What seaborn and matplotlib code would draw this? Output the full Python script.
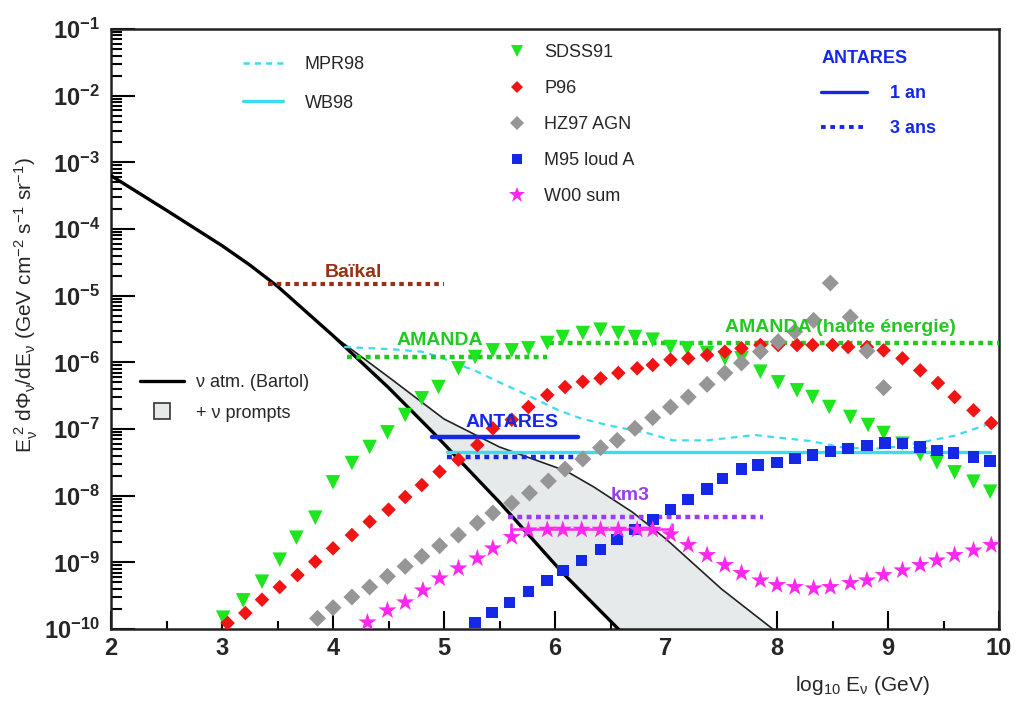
import numpy as np
import pandas as pd
import matplotlib
matplotlib.use('Agg')
import matplotlib.pyplot as plt
import seaborn as sns
from matplotlib.lines import Line2D
from matplotlib.ticker import FixedLocator, FuncFormatter, NullFormatter

sns.set_theme(style='ticks')
plt.rcParams['font.family'] = ['Liberation Sans', 'DejaVu Sans']
plt.rcParams['mathtext.fontset'] = 'custom'
plt.rcParams['mathtext.rm'] = 'Liberation Sans'
plt.rcParams['mathtext.it'] = 'Liberation Sans'
plt.rcParams['mathtext.bf'] = 'Liberation Sans:bold'

# ---------------- data (x = log10 E [GeV], values = log10 flux) ----------------
bartol_x = [2.0, 2.5, 3.0, 3.25, 3.5, 4.0, 4.5, 4.9, 5.5, 6.07, 6.6]
bartol_log = [-3.2, -3.72, -4.25, -4.54, -4.86, -5.6, -6.38, -7.05, -8.1, -9.16, -10.05]

prompt_x = [4.0, 4.5, 5.0, 5.5, 5.8, 6.1, 6.35, 6.7, 7.0, 7.5, 8.0]
prompt_log = [-5.6, -6.22, -6.85, -7.27, -7.45, -7.63, -7.87, -8.25, -8.65, -9.4, -10.05]

mpr_x = [4.1, 4.5, 4.8, 4.96, 5.3, 5.5, 5.75, 6.02, 6.23, 6.47, 6.83, 7.06, 7.37,
         7.8, 8.3, 8.57, 8.85, 9.05, 9.3, 9.6, 9.95]
mpr_log = [-5.77, -5.8, -5.84, -5.92, -6.14, -6.3, -6.49, -6.71, -6.84, -6.94, -7.06,
           -7.17, -7.17, -7.09, -7.18, -7.27, -7.3, -7.27, -7.2, -7.1, -6.9]

wb_x = [5.03, 9.92]
wb_log = [-7.34, -7.34]

baikal_x = [3.41, 5.0]
baikal_log = [-4.82, -4.82]
amanda_x = [4.13, 5.93]
amanda_log = [-5.92, -5.92]
amanda_he_x = [5.95, 10.0]
amanda_he_log = [-5.71, -5.71]
antares1_x = [4.89, 6.21]
antares1_log = [-7.12, -7.12]
antares3_x = [5.03, 6.22]
antares3_log = [-7.42, -7.42]
km3_x = [5.58, 7.87]
km3_log = [-8.32, -8.32]
w00_band_x = [5.6, 7.05]
w00_band_log = [-8.5, -8.5]

sdss_x = [3.01, 3.19, 3.36, 3.52, 3.67, 3.84, 4.0, 4.17, 4.33, 4.49, 4.65, 4.8, 4.95,
          5.13, 5.28, 5.44, 5.61, 5.76, 5.93, 6.07, 6.25, 6.41, 6.57, 6.72, 6.88,
          7.04, 7.19, 7.37, 7.53, 7.68, 7.85, 8.01, 8.18, 8.32, 8.47, 8.66, 8.82,
          8.96, 9.13, 9.29, 9.44, 9.6, 9.77, 9.92]
sdss_log = [-9.83, -9.57, -9.29, -8.96, -8.63, -8.33, -7.8, -7.51, -7.27, -7.05, -6.79,
            -6.54, -6.37, -6.09, -5.92, -5.82, -5.82, -5.79, -5.71, -5.62, -5.56, -5.51,
            -5.56, -5.62, -5.66, -5.77, -5.79, -5.86, -5.94, -5.94, -6.14, -6.3, -6.42,
            -6.52, -6.67, -6.82, -6.94, -7.06, -7.22, -7.38, -7.5, -7.65, -7.79, -7.94]

p96_x = [3.05, 3.21, 3.36, 3.52, 3.68, 3.84, 4.0, 4.17, 4.33, 4.5, 4.65, 4.8, 4.96,
         5.13, 5.3, 5.44, 5.61, 5.76, 5.93, 6.09, 6.25, 6.41, 6.57, 6.74, 6.88, 7.04,
         7.2, 7.37, 7.53, 7.68, 7.85, 8.01, 8.18, 8.32, 8.5, 8.64, 8.81, 8.96, 9.13,
         9.29, 9.45, 9.6, 9.77, 9.93]
p96_log = [-9.91, -9.76, -9.56, -9.37, -9.19, -8.99, -8.79, -8.59, -8.39, -8.21, -8.02,
           -7.84, -7.64, -7.46, -7.24, -6.99, -6.86, -6.67, -6.49, -6.37, -6.29, -6.24,
           -6.16, -6.09, -6.04, -5.96, -5.94, -5.89, -5.84, -5.79, -5.74, -5.74, -5.74,
           -5.74, -5.74, -5.77, -5.77, -5.82, -5.94, -6.12, -6.31, -6.52, -6.72, -6.91]

hz97_x = [3.86, 4.0, 4.17, 4.33, 4.49, 4.65, 4.8, 4.96, 5.13, 5.3, 5.44, 5.61, 5.77,
          5.94, 6.09, 6.25, 6.41, 6.56, 6.72, 6.88, 7.04, 7.2, 7.37, 7.53, 7.68, 7.85,
          8.01, 8.16, 8.33, 8.48, 8.66, 8.81, 8.96]
hz97_log = [-9.84, -9.68, -9.52, -9.37, -9.21, -9.06, -8.91, -8.75, -8.59, -8.41, -8.26,
            -8.11, -7.96, -7.78, -7.6, -7.45, -7.28, -7.17, -6.99, -6.83, -6.67, -6.52,
            -6.33, -6.16, -6.01, -5.84, -5.69, -5.54, -5.37, -4.81, -5.32, -5.83, -6.38]

m95_x = [5.28, 5.43, 5.59, 5.76, 5.93, 6.07, 6.24, 6.41, 6.56, 6.72, 6.88, 7.04, 7.2,
         7.37, 7.51, 7.68, 7.83, 8.0, 8.16, 8.32, 8.48, 8.64, 8.81, 8.97, 9.13, 9.29,
         9.44, 9.59, 9.77, 9.92]
m95_log = [-9.9, -9.75, -9.6, -9.44, -9.27, -9.12, -8.97, -8.81, -8.66, -8.51, -8.36,
           -8.21, -8.06, -7.9, -7.74, -7.6, -7.54, -7.5, -7.44, -7.39, -7.34, -7.29,
           -7.25, -7.21, -7.22, -7.27, -7.32, -7.36, -7.42, -7.48]

w00_x = [4.31, 4.49, 4.65, 4.81, 4.96, 5.13, 5.3, 5.44, 5.61, 5.76, 5.93, 6.07, 6.24,
         6.41, 6.57, 6.74, 6.88, 7.04, 7.2, 7.37, 7.53, 7.68, 7.85, 8.0, 8.16, 8.33,
         8.48, 8.66, 8.81, 8.96, 9.13, 9.29, 9.44, 9.6, 9.77, 9.93]
w00_log = [-9.9, -9.72, -9.6, -9.42, -9.24, -9.09, -8.94, -8.79, -8.62, -8.52, -8.51,
           -8.51, -8.51, -8.51, -8.51, -8.51, -8.51, -8.58, -8.74, -8.89, -9.04, -9.16,
           -9.27, -9.34, -9.37, -9.39, -9.37, -9.31, -9.27, -9.19, -9.12, -9.04, -8.97,
           -8.89, -8.82, -8.74]

model_names = ['SDSS91', 'P96', 'HZ97 AGN', 'M95 loud A', 'W00 sum']
x_ticks = [2, 3, 4, 5, 6, 7, 8, 9, 10]
y_exponents = list(range(-10, 0))

# ---------------- style ----------------
C_GREEN = '#1ee61e'
C_RED = '#f01414'
C_GREY = '#969696'
C_BLUE = '#1428e6'
C_MAG = '#ff28f0'
C_CYAN = '#3cdcf0'
C_BROWN = '#963214'
C_PURPLE = '#9b3cf0'
C_AMANDA = '#23c823'

def f(v):
    return 10.0 ** np.asarray(v, dtype=float)

fig = plt.figure(figsize=(10.16, 7.04), dpi=100)
ax = fig.add_axes([0.1093, 0.1065, 0.874, 0.8523])
ax.set_yscale('log')
ax.set_xlim(2, 10)
ax.set_ylim(1e-10, 1e-1)

# shaded prompt band
bx = np.asarray(bartol_x)
bl = np.asarray(bartol_log)
mask = bx >= 4.0
poly_x = np.concatenate([prompt_x, bx[mask][::-1]])
poly_y = np.concatenate([f(prompt_log), f(bl[mask][::-1])])
ax.fill(poly_x, poly_y, facecolor='#e6eaeb', edgecolor='none', zorder=1)
sns.lineplot(x=prompt_x, y=f(prompt_log), ax=ax, color='#222222', lw=1.2, sort=False,
             estimator=None, zorder=2)
sns.lineplot(x=bartol_x, y=f(bartol_log), ax=ax, color='black', lw=2.4, sort=False,
             estimator=None, zorder=3)

# model lines
sns.lineplot(x=mpr_x, y=f(mpr_log), ax=ax, color=C_CYAN, lw=1.6, estimator=None,
             sort=False, linestyle=(0, (3, 2.5)), zorder=3)
sns.lineplot(x=wb_x, y=f(wb_log), ax=ax, color=C_CYAN, lw=2.4, estimator=None, zorder=3)

# sensitivity lines
dot = (0, (1.1, 1.0))
ax.plot(baikal_x, f(baikal_log), color=C_BROWN, lw=3, linestyle=dot, zorder=3)
ax.plot(amanda_x, f(amanda_log), color=C_AMANDA, lw=3.2, linestyle=dot, zorder=3)
ax.plot(amanda_he_x, f(amanda_he_log), color=C_AMANDA, lw=3.2, linestyle=dot, zorder=3)
ax.plot(antares1_x, f(antares1_log), color=C_BLUE, lw=3.2, zorder=4)
ax.plot(antares3_x, f(antares3_log), color=C_BLUE, lw=3.2, linestyle=dot, zorder=4)
ax.plot(km3_x, f(km3_log), color=C_PURPLE, lw=3.2, linestyle=dot, zorder=3)
ax.plot(w00_band_x, f(w00_band_log), color=C_MAG, lw=1.8, zorder=4,
        marker='|', markersize=9, markeredgewidth=1.8)

# model markers
frames = []
for name, xs, ls in [('SDSS91', sdss_x, sdss_log), ('P96', p96_x, p96_log),
                     ('HZ97 AGN', hz97_x, hz97_log), ('M95 loud A', m95_x, m95_log),
                     ('W00 sum', w00_x, w00_log)]:
    frames.append(pd.DataFrame({'logE': xs, 'flux': f(ls), 'model': name}))
df = pd.concat(frames, ignore_index=True)
palette = {'SDSS91': C_GREEN, 'P96': C_RED, 'HZ97 AGN': C_GREY,
           'M95 loud A': C_BLUE, 'W00 sum': C_MAG}
markers = {'SDSS91': 'v', 'P96': 'D', 'HZ97 AGN': 'D', 'M95 loud A': 's', 'W00 sum': '*'}
sizes = {'SDSS91': 110, 'P96': 55, 'HZ97 AGN': 75, 'M95 loud A': 70, 'W00 sum': 190}
sns.scatterplot(data=df, x='logE', y='flux', hue='model', style='model', size='model',
                palette=palette, markers=markers, sizes=sizes, linewidth=0,
                legend=False, ax=ax, zorder=5)

# in-plot labels
lab = dict(fontsize=14, fontweight='bold', ha='center', va='center', zorder=6)
ax.text(4.18, 2.26e-5, 'Baïkal', color=C_BROWN, **lab)
ax.text(4.96, 2.16e-6, 'AMANDA', color=C_AMANDA, **lab)
ax.text(8.57, 3.39e-6, 'AMANDA (haute énergie)', color=C_AMANDA, **lab)
ax.text(5.61, 1.27e-7, 'ANTARES', color=C_BLUE, **lab)
ax.text(6.68, 1.02e-8, 'km3', color=C_PURPLE, **lab)

# axes / ticks
ax.xaxis.set_major_locator(FixedLocator(x_ticks))
ax.xaxis.set_minor_locator(FixedLocator(np.arange(2.5, 10, 1.0)))
ax.xaxis.set_major_formatter(FuncFormatter(lambda v, p: f'{int(v)}'))
ax.yaxis.set_major_locator(FixedLocator([10.0 ** e for e in y_exponents]))
ax.yaxis.set_major_formatter(FuncFormatter(
    lambda v, p: r'$\mathbf{10^{%d}}$' % int(round(np.log10(v)))))
ax.yaxis.set_minor_locator(matplotlib.ticker.LogLocator(base=10, subs=np.arange(2, 10), numticks=100))
ax.yaxis.set_minor_formatter(NullFormatter())
ax.tick_params(axis='both', which='both', direction='in', top=False, right=False,
               width=1.5, color='black')
ax.tick_params(axis='y', which='major', length=17, labelsize=17, pad=8)
ax.tick_params(axis='y', which='minor', length=8)
ax.tick_params(axis='x', which='major', length=13, labelsize=17, pad=6)
ax.tick_params(axis='x', which='minor', length=6)
for lbl in ax.get_xticklabels():
    lbl.set_fontweight('bold')
for sp in ax.spines.values():
    sp.set_linewidth(1.8)
    sp.set_color('#222222')
    sp.set_visible(True)

ax.set_xlabel(r'log$_{10}$ E$_{\mathrm{ν}}$ (GeV)', fontsize=15)
ax.xaxis.set_label_coords(0.846, -0.075)
ax.set_ylabel(r'E$_{\mathrm{ν}}^{\ 2}$ dΦ$_{\mathrm{ν}}$/dE$_{\mathrm{ν}}$ '
              r'(GeV cm$^{-2}$ s$^{-1}$ sr$^{-1}$)', fontsize=15)
ax.yaxis.set_label_coords(-0.08, 0.54)

# legends
leg1 = ax.legend(handles=[Line2D([], [], color=C_CYAN, lw=1.8, linestyle=(0, (2.5, 2))),
                          Line2D([], [], color=C_CYAN, lw=2.4)],
                 labels=['MPR98', 'WB98'], loc='upper left', bbox_to_anchor=(0.149, 0.955),
                 frameon=False, fontsize=13, handlelength=2.2, handletextpad=1.2,
                 labelspacing=1.2, borderpad=0, borderaxespad=0)
ax.add_artist(leg1)

mk_handles = [Line2D([], [], linestyle='None', marker=markers[n], color=palette[n],
                     markersize=np.sqrt(sizes[n]) * 0.85, markeredgewidth=0)
              for n in model_names]
leg2 = ax.legend(handles=mk_handles, labels=model_names, loc='upper left',
                 bbox_to_anchor=(0.447, 0.975), frameon=False, fontsize=13,
                 handlelength=1.0, handletextpad=1.0, labelspacing=1.05,
                 borderpad=0, borderaxespad=0)
ax.add_artist(leg2)

leg3 = ax.legend(handles=[Line2D([], [], color=C_BLUE, lw=2.4),
                          Line2D([], [], color=C_BLUE, lw=2.8, linestyle=(0, (1.2, 1.2)))],
                 labels=['1 an', '3 ans'], loc='upper left', bbox_to_anchor=(0.80, 0.965),
                 frameon=False, fontsize=13, handlelength=2.5, handletextpad=1.3,
                 labelspacing=1.0, borderpad=0, borderaxespad=0, title='ANTARES',
                 alignment='left', title_fontproperties={'size': 13, 'weight': 'bold'})
leg3.get_title().set_color(C_BLUE)
for t in leg3.get_texts():
    t.set_color(C_BLUE)
    t.set_fontweight('bold')
ax.add_artist(leg3)

leg4 = ax.legend(handles=[Line2D([], [], color='black', lw=2.4),
                          Line2D([], [], linestyle='None', marker='s', markersize=11,
                                 markerfacecolor='#e6eaeb', markeredgecolor='#333333',
                                 markeredgewidth=1.2)],
                 labels=['ν atm. (Bartol)', '+ ν prompts'], loc='upper left',
                 bbox_to_anchor=(0.033, 0.425), frameon=False, fontsize=13,
                 handlelength=2.4, handletextpad=0.7, labelspacing=0.75,
                 borderpad=0, borderaxespad=0)

fig.savefig('out.png', dpi=100)
